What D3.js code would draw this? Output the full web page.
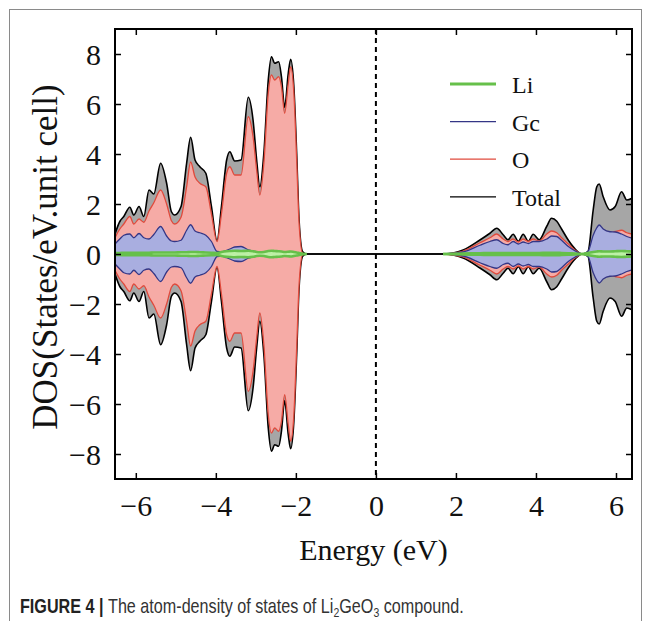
<!DOCTYPE html>
<html>
<head>
<meta charset="utf-8">
<script src="https://cdn.jsdelivr.net/npm/d3@7"></script>
<style>
  body { margin: 0; background: #fff; }
  .serif { font-family: "Liberation Serif", "Times New Roman", serif; fill: #111; }
  .caption { font-family: "Liberation Sans", Arial, sans-serif; fill: #333; }
</style>
</head>
<body>
<svg id="chart" width="651" height="621"></svg>
<script>
// energy grid (eV); DOS is drawn mirrored for spin up / down
const energy = [-6.52, -6.4, -6.3, -6.15, -6.05, -5.92, -5.8, -5.67, -5.55, -5.38,
  -5.23, -5.11, -5.03, -4.87, -4.73, -4.63, -4.52, -4.4, -4.25, -4.11,
  -3.97, -3.86, -3.73, -3.65, -3.53, -3.37, -3.19, -3.07, -2.98, -2.9,
  -2.8, -2.69, -2.61, -2.53, -2.43, -2.36, -2.28, -2.19, -2.13, -2.05,
  -1.98, -1.92, -1.83, -1.73, 0, 1.68, 2.18, 2.6, 2.85, 3.02,
  3.18, 3.3, 3.43, 3.56, 3.68, 3.81, 3.93, 4.08, 4.27, 4.39,
  4.52, 4.64, 4.81, 4.98, 5.15, 5.3, 5.43, 5.52, 5.58, 5.68,
  5.85, 5.98, 6.14, 6.27, 6.4];

const totalDos = [0.8, 1.3, 1.5, 1.87, 1.56, 1.9, 1.5, 2.56, 2.4, 3.63,
  2.83, 1.69, 1.56, 1.9, 3.63, 4.67, 3.76, 3.49, 3.23, 1.9,
  0.53, 1.9, 3.76, 4.09, 3.72, 3.76, 6.27, 5.36, 3.76, 2.69,
  4.03, 6.96, 7.89, 7.63, 7.69, 7.09, 5.87, 7.23, 7.79, 6.69,
  4.03, 1.36, 0.09, 0, 0, 0, 0.16, 0.56, 0.83, 1.03,
  0.77, 0.57, 0.79, 0.51, 0.79, 0.51, 0.79, 0.57, 1.11, 1.43,
  1.31, 1.0, 0.55, 0.2, 0, 0.1, 1.76, 2.69, 2.8, 2.29,
  1.76, 1.9, 2.49, 2.16, 2.23];

const oDos = [0.65, 1.0, 1.2, 1.5, 1.2, 1.4, 1.27, 1.72, 2.05, 2.56,
  2.0, 1.33, 1.2, 1.47, 2.69, 3.68, 3.08, 2.83, 2.69, 1.6,
  0.5, 1.6, 3.23, 3.49, 3.16, 3.16, 5.49, 4.69, 3.36, 2.36,
  3.63, 6.43, 7.16, 6.96, 7.09, 6.69, 5.63, 6.83, 7.49, 6.43,
  3.76, 1.23, 0.03, 0, null, 0, 0.12, 0.45, 0.65, 0.8,
  0.6, 0.5, 0.6, 0.48, 0.6, 0.5, 0.6, 0.52, 0.8, 0.92,
  0.85, 0.65, 0.4, 0.15, 0, 0.06, 0.6, 0.95, 1.05, 0.95,
  0.85, 0.9, 0.95, 0.85, 0.8];

const geDos = [0.4, 0.6, 0.75, 0.8, 0.65, 0.82, 0.65, 0.6, 0.78, 1.1,
  0.72, 0.52, 0.5, 0.55, 0.95, 1.17, 0.92, 0.85, 0.75, 0.5,
  0.1, 0.08, 0.15, 0.2, 0.28, 0.3, 0.17, 0.12, 0.08, 0.05,
  0.04, 0.04, 0.04, 0.03, 0.03, 0.03, 0.03, 0.03, 0.03, 0.03,
  0.02, 0.02, 0.01, 0, null, 0, 0.08, 0.35, 0.5, 0.57,
  0.42, 0.37, 0.5, 0.4, 0.48, 0.42, 0.5, 0.5, 0.6, 0.72,
  0.7, 0.55, 0.3, 0.12, 0, 0.1, 0.75, 1.05, 1.16, 1.0,
  0.89, 0.88, 0.8, 0.7, 0.63];

const liDos = [0.04, 0.04, 0.05, 0.05, 0.05, 0.05, 0.05, 0.05, 0.06, 0.06,
  0.06, 0.06, 0.06, 0.07, 0.07, 0.08, 0.08, 0.07, 0.06, 0.05,
  0.04, 0.08, 0.11, 0.12, 0.13, 0.12, 0.13, 0.11, 0.08, 0.07,
  0.08, 0.12, 0.13, 0.12, 0.11, 0.1, 0.08, 0.09, 0.1, 0.08,
  0.06, 0.04, 0.01, 0, null, 0, 0.02, 0.03, 0.04, 0.04,
  0.04, 0.04, 0.04, 0.04, 0.04, 0.04, 0.04, 0.04, 0.05, 0.05,
  0.05, 0.04, 0.03, 0.02, 0, 0.04, 0.08, 0.1, 0.11, 0.1,
  0.1, 0.11, 0.12, 0.11, 0.1];

const xTicks = [-6, -4, -2, 0, 2, 4, 6];
const yTicks = [-8, -6, -4, -2, 0, 2, 4, 6, 8];
const legendNames = ['Li', 'Gc', 'O', 'Total'];

const svg = d3.select('#chart');

// outer figure border
svg.append('rect')
  .attr('x', 9.5).attr('y', 9.5).attr('width', 632).attr('height', 640)
  .attr('fill', 'none').attr('stroke', '#8a8a8a').attr('stroke-width', 1);

const margin = {left: 115, top: 29, right: 632, bottom: 479};
const x = d3.scaleLinear().domain([-6.52, 6.4]).range([margin.left, margin.right]);
const y = d3.scaleLinear().domain([-9, 9]).range([margin.bottom, margin.top]);

svg.append('clipPath').attr('id', 'plotclip')
  .append('rect')
  .attr('x', margin.left).attr('y', margin.top)
  .attr('width', margin.right - margin.left).attr('height', margin.bottom - margin.top);

const plot = svg.append('g').attr('clip-path', 'url(#plotclip)');

// draw one projected DOS, both spin channels
function drawSeries(vals, fill, stroke, width) {
  const pts = energy.map((e, i) => ({e: e, v: vals[i]}));
  [1, -1].forEach(s => {
    const area = d3.area()
      .defined(d => d.v != null)
      .x(d => x(d.e))
      .y0(y(0))
      .y1(d => y(s * d.v))
      .curve(d3.curveMonotoneX);
    const line = d3.line()
      .defined(d => d.v != null)
      .x(d => x(d.e))
      .y(d => y(s * d.v))
      .curve(d3.curveMonotoneX);
    plot.append('path').datum(pts).attr('d', area).attr('fill', fill);
    plot.append('path').datum(pts).attr('d', line)
      .attr('fill', 'none').attr('stroke', stroke).attr('stroke-width', width)
      .attr('stroke-linejoin', 'round');
  });
}

drawSeries(totalDos, '#a6a6a6', '#000', 1.6);
drawSeries(oDos, '#f6aba6', '#e04a3c', 1.3);
drawSeries(geDos, '#a9aee0', '#343686', 1.3);
drawSeries(liDos, '#bdf0a6', '#66c04a', 2.6);

// Fermi level
svg.append('line')
  .attr('x1', x(0)).attr('x2', x(0))
  .attr('y1', margin.top).attr('y2', margin.bottom)
  .attr('stroke', '#000').attr('stroke-width', 2)
  .attr('stroke-dasharray', '5,4');

// axes with inward ticks
const bottomAxis = svg.append('g')
  .attr('transform', `translate(0,${margin.bottom})`)
  .call(d3.axisBottom(x).tickValues(xTicks).tickSize(-6).tickPadding(0));
bottomAxis.selectAll('text').attr('class', 'serif').attr('font-size', 30)
  .attr('dy', 0).attr('y', 37).attr('fill', '#111');

svg.append('g')
  .attr('transform', `translate(0,${margin.top})`)
  .call(d3.axisTop(x).tickValues(xTicks).tickSize(-6).tickFormat(''));

const leftAxis = svg.append('g')
  .attr('transform', `translate(${margin.left},0)`)
  .call(d3.axisLeft(y).tickValues(yTicks).tickSize(-6).tickPadding(14));
leftAxis.selectAll('text').attr('class', 'serif').attr('font-size', 30)
  .attr('dy', '0.34em').attr('fill', '#111');

svg.append('g')
  .attr('transform', `translate(${margin.right},0)`)
  .call(d3.axisRight(y).tickValues(yTicks).tickSize(-6).tickFormat(''));

svg.selectAll('.domain').remove();
svg.selectAll('.tick line').attr('stroke', '#000').attr('stroke-width', 1.5);

svg.append('rect')
  .attr('x', margin.left).attr('y', margin.top)
  .attr('width', margin.right - margin.left).attr('height', margin.bottom - margin.top)
  .attr('fill', 'none').attr('stroke', '#000').attr('stroke-width', 2);

// axis titles
svg.append('text').attr('class', 'serif')
  .attr('x', (margin.left + margin.right) / 2).attr('y', 560)
  .attr('text-anchor', 'middle').attr('font-size', 30)
  .text('Energy (eV)');

svg.append('text').attr('class', 'serif')
  .attr('transform', 'translate(57,257) rotate(-90)')
  .attr('text-anchor', 'middle').attr('font-size', 35)
  .text('DOS(States/eV.unit cell)');

// legend
const legendColors = ['#66c04a', '#343686', '#e04a3c', '#000'];
const legendWidths = [3, 1.3, 1.3, 1.3];
const legend = svg.append('g');
legendNames.forEach((name, i) => {
  const ly = 84 + i * 37.6;
  legend.append('line')
    .attr('x1', 450).attr('x2', 496).attr('y1', ly).attr('y2', ly)
    .attr('stroke', legendColors[i]).attr('stroke-width', legendWidths[i]);
  legend.append('text').attr('class', 'serif')
    .attr('x', 512).attr('y', ly + 9).attr('font-size', 24)
    .text(name);
});

// caption
const cap = svg.append('text').attr('class', 'caption')
  .attr('x', 20).attr('y', 613).attr('font-size', 20);
cap.append('tspan').attr('font-weight', 'bold').attr('fill', '#222').text('FIGURE 4 | ');
cap.append('tspan').text('The atom-density of states of Li');
cap.append('tspan').attr('font-size', 13).attr('dy', 4).text('2');
cap.append('tspan').attr('dy', -4).text('GeO');
cap.append('tspan').attr('font-size', 13).attr('dy', 4).text('3');
cap.append('tspan').attr('dy', -4).text(' compound.');
const capW = cap.node().getComputedTextLength();
cap.attr('transform', `translate(20,0) scale(${444 / capW},1) translate(-20,0)`);
</script>
</body>
</html>
